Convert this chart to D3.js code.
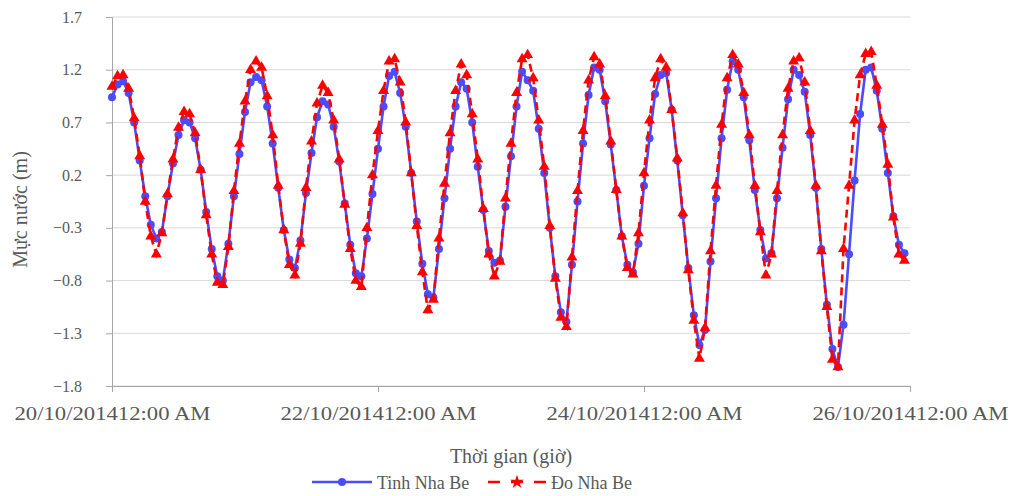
<!DOCTYPE html>
<html>
<head>
<meta charset="utf-8">
<script src="https://cdn.jsdelivr.net/npm/d3@7"></script>
<style>
  html, body { margin: 0; padding: 0; background: #fff; }
  svg { display: block; }
  text { font-family: "Liberation Serif", "Times New Roman", serif; fill: #595959; }
</style>
</head>
<body>
<svg id="chart" width="1011" height="496"></svg>
<script>
// Hourly water level at Nha Be, starting 20/10/2014 00:00 (metres)
const startTime = new Date(2014, 9, 20, 0);

const tinhNhaBe = [
  0.94, 1.06, 1.09, 0.98, 0.70, 0.34, 0.00, -0.27, -0.40, -0.34,
  0.00, 0.31, 0.58, 0.72, 0.70, 0.55, 0.25, -0.15, -0.50, -0.76,
  -0.80, -0.45, 0.00, 0.40, 0.80, 1.08, 1.13, 1.10, 0.85, 0.50,
  0.08, -0.32, -0.60, -0.68, -0.42, 0.03, 0.41, 0.75, 0.90, 0.87,
  0.66, 0.33, -0.07, -0.46, -0.73, -0.76, -0.40, 0.02, 0.45, 0.85,
  1.14, 1.18, 0.98, 0.66, 0.22, -0.24, -0.64, -0.93, -0.96, -0.50,
  -0.02, 0.45, 0.85, 1.08, 1.02, 0.70, 0.28, -0.13, -0.52, -0.63,
  -0.61, -0.10, 0.38, 0.85, 1.18, 1.10, 1.00, 0.64, 0.22, -0.30,
  -0.76, -1.10, -1.19, -0.65, -0.05, 0.50, 0.96, 1.22, 1.20, 0.90,
  0.49, 0.06, -0.38, -0.65, -0.72, -0.45, 0.10, 0.55, 0.97, 1.15,
  1.17, 0.82, 0.34, -0.18, -0.68, -1.13, -1.41, -1.27, -0.62, -0.02,
  0.55, 1.01, 1.28, 1.20, 0.94, 0.53, 0.06, -0.32, -0.59, -0.54,
  -0.02, 0.46, 0.92, 1.20, 1.15, 0.99, 0.58, 0.08, -0.50, -1.03,
  -1.45, -1.62, -1.22, -0.55, 0.15, 0.78, 1.20, 1.22, 1.00, 0.64,
  0.22, -0.19, -0.46, -0.54
];

const doNhaBe = [
  1.04, 1.14, 1.15, 1.02, 0.74, 0.38, -0.05, -0.38, -0.55, -0.35,
  0.02, 0.35, 0.65, 0.80, 0.78, 0.60, 0.25, -0.18, -0.55, -0.82,
  -0.84, -0.48, 0.05, 0.50, 0.90, 1.20, 1.28, 1.22, 0.95, 0.58,
  0.10, -0.32, -0.65, -0.75, -0.45, 0.08, 0.52, 0.88, 1.05, 0.98,
  0.72, 0.35, -0.08, -0.50, -0.80, -0.86, -0.30, 0.20, 0.62, 1.00,
  1.28, 1.30, 1.08, 0.70, 0.22, -0.28, -0.72, -1.08, -0.98, -0.40,
  0.12, 0.60, 1.00, 1.25, 1.15, 0.78, 0.35, -0.12, -0.55, -0.76,
  -0.62, -0.02, 0.50, 0.98, 1.30, 1.34, 1.12, 0.72, 0.28, -0.28,
  -0.78, -1.15, -1.24, -0.58, 0.05, 0.62, 1.10, 1.32, 1.25, 0.95,
  0.52, 0.06, -0.38, -0.68, -0.74, -0.35, 0.22, 0.72, 1.12, 1.30,
  1.22, 0.82, 0.36, -0.16, -0.70, -1.18, -1.54, -1.25, -0.52, 0.10,
  0.68, 1.12, 1.34, 1.25, 0.98, 0.58, 0.10, -0.34, -0.75, -0.55,
  0.05, 0.58, 1.02, 1.28, 1.31, 1.08, 0.62, 0.10, -0.52, -1.05,
  -1.55, -1.62, -0.50, 0.10, 0.72, 1.15, 1.35, 1.37, 1.05, 0.68,
  0.30, -0.20, -0.55, -0.61
];

const yTicks = [1.7, 1.2, 0.7, 0.2, -0.3, -0.8, -1.3, -1.8];
const xTickDates = [new Date(2014, 9, 20), new Date(2014, 9, 22), new Date(2014, 9, 24), new Date(2014, 9, 26)];
const xTickLabels = ["20/10/201412:00 AM", "22/10/201412:00 AM", "24/10/201412:00 AM", "26/10/201412:00 AM"];
const seriesNames = ["Tinh Nha Be", "Đo Nha Be"];
const yTitle = "Mực nước (m)";
const xTitle = "Thời gian (giờ)";

const svg = d3.select("#chart");
const plot = { left: 112, right: 910, top: 17, bottom: 386 };

const x = d3.scaleTime()
  .domain([xTickDates[0], xTickDates[xTickDates.length - 1]])
  .range([plot.left, plot.right]);
const y = d3.scaleLinear()
  .domain([-1.8, 1.7])
  .range([plot.bottom, plot.top]);

const toPoints = vals => vals.map((v, i) => ({ t: d3.timeHour.offset(startTime, i), v }));
const tinhPts = toPoints(tinhNhaBe);
const doPts = toPoints(doNhaBe);

// horizontal gridlines
svg.append("g")
  .selectAll("line")
  .data(yTicks)
  .join("line")
  .attr("x1", plot.left).attr("x2", plot.right)
  .attr("y1", d => y(d)).attr("y2", d => y(d))
  .attr("stroke", "#d9d9d9").attr("stroke-width", 1);

// y axis
const yAxis = svg.append("g")
  .attr("transform", `translate(${plot.left},0)`)
  .call(d3.axisLeft(y).tickValues(yTicks).tickFormat(d3.format(".1f")).tickSize(6).tickPadding(24));
yAxis.select(".domain").attr("stroke", "#a6a6a6");
yAxis.selectAll(".tick line").attr("stroke", "#a6a6a6");
yAxis.selectAll(".tick text")
  .attr("font-size", 16)
  .attr("font-family", "Liberation Serif")
  .attr("fill", "#595959");

// x axis
const xAxis = svg.append("g")
  .attr("transform", `translate(0,${plot.bottom})`)
  .call(d3.axisBottom(x).tickValues(xTickDates).tickFormat((d, i) => xTickLabels[i]).tickSize(6).tickPadding(15));
xAxis.select(".domain").attr("stroke", "#a6a6a6");
xAxis.selectAll(".tick line").attr("stroke", "#a6a6a6");
xAxis.selectAll(".tick text")
  .attr("font-size", 19)
  .attr("font-family", "Liberation Serif")
  .attr("fill", "#595959")
  .attr("textLength", 196)
  .attr("lengthAdjust", "spacingAndGlyphs");

// axis titles
svg.append("text")
  .attr("transform", `translate(27,${(plot.top + plot.bottom) / 2 + 8}) rotate(-90)`)
  .attr("text-anchor", "middle")
  .attr("font-size", 20)
  .text(yTitle);

svg.append("text")
  .attr("x", 511).attr("y", 463)
  .attr("text-anchor", "middle")
  .attr("font-size", 20)
  .text(xTitle);

const blue = "#4b4bff";
const red = "#ff0000";

const line = d3.line().x(d => x(d.t)).y(d => y(d.v));

// Tinh series: solid blue line with circles
svg.append("path")
  .datum(tinhPts)
  .attr("d", line)
  .attr("fill", "none")
  .attr("stroke", blue)
  .attr("stroke-width", 2.6);
svg.append("g")
  .selectAll("circle")
  .data(tinhPts)
  .join("circle")
  .attr("cx", d => x(d.t)).attr("cy", d => y(d.v))
  .attr("r", 4)
  .attr("fill", blue);

// Do series: dashed red line with triangles
svg.append("path")
  .datum(doPts)
  .attr("d", line)
  .attr("fill", "none")
  .attr("stroke", red)
  .attr("stroke-width", 2.6)
  .attr("stroke-dasharray", "8,5");
const tri = d3.symbol().type(d3.symbolTriangle).size(52);
svg.append("g")
  .selectAll("path")
  .data(doPts)
  .join("path")
  .attr("transform", d => `translate(${x(d.t)},${y(d.v)})`)
  .attr("d", tri)
  .attr("fill", red);

// legend
const legY = 482;
const leg = svg.append("g");
leg.append("line")
  .attr("x1", 312).attr("x2", 372).attr("y1", legY).attr("y2", legY)
  .attr("stroke", blue).attr("stroke-width", 2.6);
leg.append("circle").attr("cx", 342).attr("cy", legY).attr("r", 4).attr("fill", blue);
leg.append("text").attr("x", 377).attr("y", legY + 7).attr("font-size", 18).text(seriesNames[0]);

leg.append("line")
  .attr("x1", 488).attr("x2", 546).attr("y1", legY).attr("y2", legY)
  .attr("stroke", red).attr("stroke-width", 2.6).attr("stroke-dasharray", "12,11");
leg.append("path")
  .attr("transform", `translate(517,${legY})`)
  .attr("d", d3.symbol().type(d3.symbolStar).size(60))
  .attr("fill", red);
leg.append("text").attr("x", 551).attr("y", legY + 7).attr("font-size", 18).text(seriesNames[1]);
</script>
</body>
</html>
